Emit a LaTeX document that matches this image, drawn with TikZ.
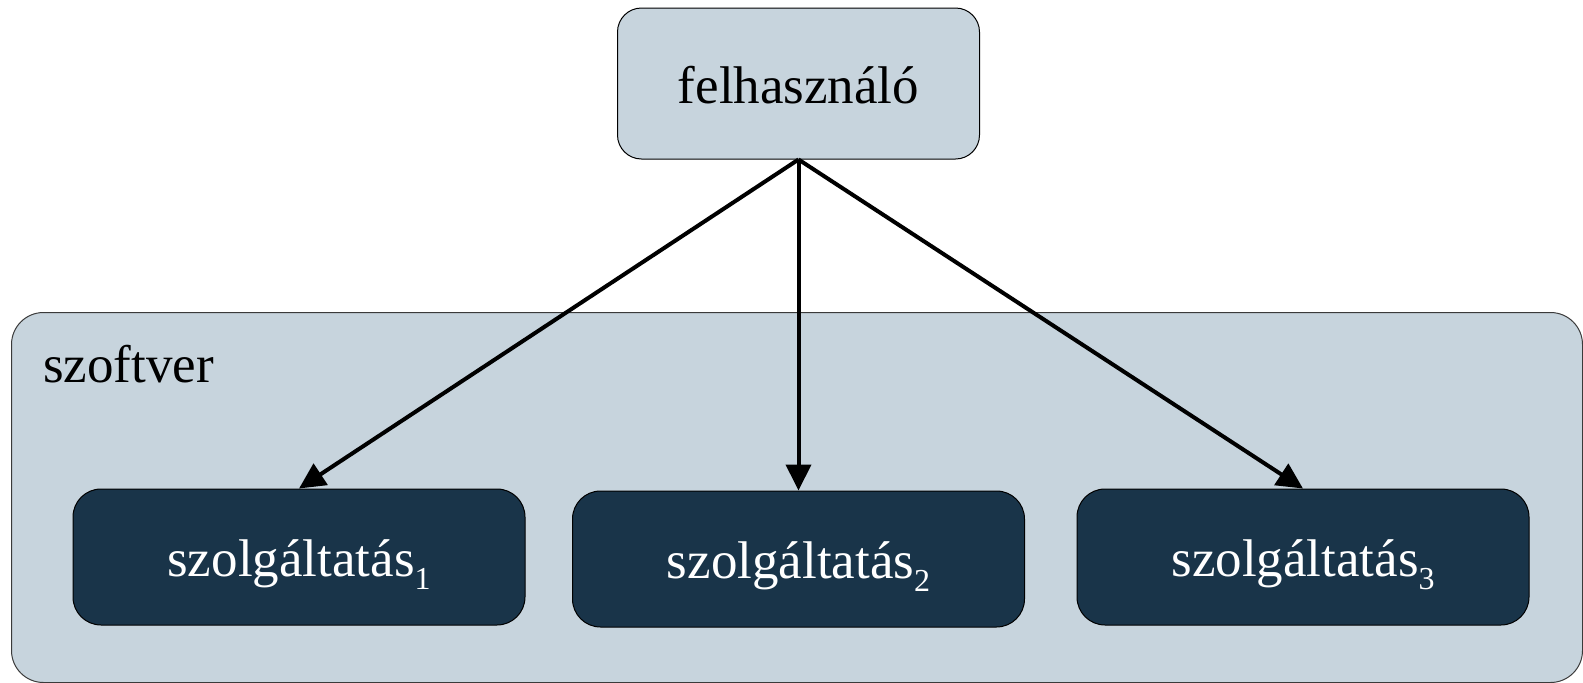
\documentclass[tikz,border=0pt]{standalone}
\usepackage{fontspec}
\setmainfont{Liberation Serif}
\usetikzlibrary{arrows.meta}

\definecolor{paleblue}{HTML}{C7D4DD}
\definecolor{navy}{HTML}{193449}
\definecolor{rimgray}{HTML}{3A3A3A}

% lowered small index after a service name
\newcommand{\svcidx}[1]{\raisebox{-13pt}{\fontsize{32}{32}\selectfont #1}}

\begin{document}
\begin{tikzpicture}[x=1pt,y=-1pt,
  bigtext/.style={font=\fontsize{53}{60}\selectfont},
  userbox/.style={draw=black, line width=1pt, fill=paleblue, rounded corners=24pt,
    minimum width=362pt, minimum height=151pt, inner sep=0pt,
    text height=39pt, text depth=0pt, bigtext},
  softbox/.style={draw=rimgray, line width=1pt, fill=paleblue, rounded corners=32pt,
    minimum width=1571pt, minimum height=370pt, inner sep=0pt},
  svcbox/.style={draw=black, line width=1pt, fill=navy, text=white, rounded corners=28pt,
    minimum width=452pt, minimum height=136pt, inner sep=0pt,
    text height=38pt, text depth=0pt, bigtext},
  link/.style={draw=black, line width=4pt, -{Triangle[length=26pt,width=25pt]}}
]
\useasboundingbox (0,0) rectangle (1583,683);

% software container with its caption
\node[softbox, anchor=north west] (software) at (11,312) {};
\node[bigtext, anchor=base west, inner sep=0pt] (softlabel) at (43,382) {szoftver};

% the user
\node[userbox] (user) at (798.5,83.5) {felhasználó};

% the three services
\node[svcbox] (s1) at (299,557) {szolgáltatás\svcidx{1}};
\node[svcbox] (s2) at (798.5,559) {szolgáltatás\svcidx{2}};
\node[svcbox] (s3) at (1303,557) {szolgáltatás\svcidx{3}};

% user reaches every service
\draw[link] (user.south) -- (s1.north);
\draw[link] (user.south) -- (s2.north);
\draw[link] (user.south) -- (s3.north);
\end{tikzpicture}
\end{document}
